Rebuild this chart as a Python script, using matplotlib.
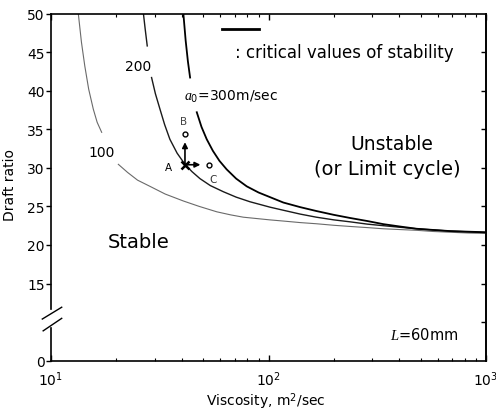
import numpy as np
import matplotlib
matplotlib.use("Agg")
import matplotlib.pyplot as plt
from matplotlib.ticker import LogLocator, NullFormatter

plt.rcParams['font.family'] = ['DejaVu Sans']
plt.rcParams['mathtext.fontset'] = 'custom'
plt.rcParams['mathtext.rm'] = 'DejaVu Sans'
plt.rcParams['mathtext.it'] = 'Liberation Serif:italic'
plt.rcParams['mathtext.bf'] = 'DejaVu Sans:bold'

# ---- data ----
visc_100 = [13.35, 13.8, 14.3, 14.9, 15.65, 16.3, 17.1, np.nan,
            20.4, 22.5, 25.0, 28.5, 33.5, 40.6, 48.0, 57.8, 67.0, 76.6, 90.0, 101.6,
            117, 140, 166, 200, 237, 285, 337, 400, 480, 570, 683, 830, 1000]
drift_100 = [50.0, 46.3, 43.2, 40.2, 37.6, 35.9, 34.6, np.nan,
             30.45, 29.4, 28.4, 27.6, 26.6, 25.7, 25.0, 24.3, 23.9, 23.6, 23.4, 23.25,
             23.1, 22.9, 22.75, 22.55, 22.4, 22.25, 22.1, 22.0, 21.9, 21.75, 21.65, 21.55, 21.5]

visc_200 = [26.6, 27.1, 27.7, np.nan,
            29.0, 30.2, 31.7, 33.3, 35.2, 38.0, 41.3, 44.5, 48.4, 54.0, 62.0, 71.0, 82.2, 101.6,
            117, 140, 166, 200, 237, 285, 337, 400, 480, 570, 683, 830, 1000]
drift_200 = [50.0, 48.0, 45.8, np.nan,
             41.7, 39.6, 37.6, 35.6, 33.7, 31.9, 30.45, 29.5, 28.6, 27.7, 26.9, 26.2, 25.6, 24.9,
             24.5, 24.0, 23.6, 23.25, 23.0, 22.7, 22.5, 22.3, 22.1, 21.95, 21.8, 21.7, 21.6]

visc_300 = [40.6, 41.6, 42.6, 43.6, np.nan,
            46.8, 49.2, 52.0, 55.5, 59.5, 64.2, 71.0, 79.4, 90.0, 101.6,
            117, 140, 166, 200, 237, 285, 337, 400, 480, 570, 683, 830, 1000]
drift_300 = [50.0, 46.5, 43.8, 41.7, np.nan,
             37.2, 35.3, 33.7, 32.2, 30.9, 29.8, 28.6, 27.6, 26.8, 26.2,
             25.5, 24.9, 24.4, 23.9, 23.5, 23.1, 22.7, 22.4, 22.1, 21.95, 21.8, 21.72, 21.65]

point_A = (41.3, 30.4)
point_B = (41.3, 34.4)
point_C = (53.5, 30.4)

yticks_left = [5, 15, 20, 25, 30, 35, 40, 45, 50]
yticklabels_left = ['0', '15', '20', '25', '30', '35', '40', '45', '50']
yticks_right = [10, 15, 20, 25, 30, 35, 40, 45]

fig = plt.figure(figsize=(4.96, 4.14), dpi=100)
ax = fig.add_axes([51/496, 1-361.7/414, 435/496, 347.2/414])

ax.set_xscale('log')
ax.set_xlim(10, 1000)
ax.set_ylim(5, 50)

ax.plot(visc_100, drift_100, color='#6a6a6a', lw=0.8)
ax.plot(visc_200, drift_200, color='#1a1a1a', lw=1.0)
ax.plot(visc_300, drift_300, color='black', lw=1.3)

# A, B, C markers
ax.plot(*point_A, marker='x', color='black', ms=6, mew=1.8)
ax.plot(*point_B, marker='o', mfc='white', mec='black', ms=3.5, mew=1.0)
ax.plot(*point_C, marker='o', mfc='white', mec='black', ms=3.5, mew=1.0)
ax.annotate('', xy=point_B, xytext=point_A,
            arrowprops=dict(arrowstyle='-|>', color='black', lw=1.2,
                            shrinkA=0, shrinkB=6, mutation_scale=8))
ax.annotate('', xy=point_C, xytext=point_A,
            arrowprops=dict(arrowstyle='-|>', color='black', lw=1.2,
                            shrinkA=0, shrinkB=6.5, mutation_scale=8))
ax.text(34.6, 30.1, 'A', fontsize=7.5, ha='center', va='center')
ax.text(40.5, 36.1, 'B', fontsize=7.5, ha='center', va='center', color='#444')
ax.text(55.7, 28.6, 'C', fontsize=7.5, ha='center', va='center', color='#333')

# curve labels
ax.text(17.1, 32.1, '100', fontsize=10, ha='center', va='center')
ax.text(25.1, 43.2, '200', fontsize=10, ha='center', va='center')
ax.text(41.0, 39.3, r'$a_0$=300m/sec', fontsize=10, ha='left', va='center')

# legend-like annotation
ax.plot([0.394, 0.479], [0.955, 0.955], transform=ax.transAxes, color='black', lw=2.0)
ax.text(0.423, 0.888, ': critical values of stability', transform=ax.transAxes,
        fontsize=12, ha='left', va='center')

ax.text(368, 33.1, 'Unstable', fontsize=13.5, ha='center', va='center')
ax.text(352, 29.85, '(or Limit cycle)', fontsize=14, ha='center', va='center')
ax.text(25.4, 20.4, 'Stable', fontsize=14, ha='center', va='center')
ax.text(362, 8.46, r'$L$=60mm', fontsize=10.5, ha='left', va='center')

# axes / spines
for s in ['top', 'right', 'bottom']:
    ax.spines[s].set_linewidth(1.2)
ax.spines['left'].set_visible(False)
ax.plot([0, 0], [0, 0.094], transform=ax.transAxes, color='black', lw=1.2, clip_on=False)
ax.plot([0, 0], [0.149, 1], transform=ax.transAxes, color='black', lw=1.2, clip_on=False)
ax.plot([-0.020, 0.0246], [0.120, 0.154], transform=ax.transAxes, color='black', lw=1.0, clip_on=False)
ax.plot([-0.018, 0.0246], [0.086, 0.122], transform=ax.transAxes, color='black', lw=1.0, clip_on=False)

ax.set_yticks(yticks_left)
ax.set_yticklabels(yticklabels_left)
ax.tick_params(axis='y', direction='out', length=3.5, width=1.0, labelsize=10, pad=1)
ax.tick_params(axis='x', which='major', direction='in', length=4, width=1.0, top=True,
               labelsize=10, pad=6)
ax.tick_params(axis='x', which='minor', direction='in', length=2.5, width=0.8, top=True)
ax.xaxis.set_minor_locator(LogLocator(base=10, subs=np.arange(2, 10)))
ax.xaxis.set_minor_formatter(NullFormatter())

sec = ax.secondary_yaxis('right')
sec.set_yticks(yticks_right)
sec.set_yticklabels([])
sec.tick_params(direction='in', length=3.5, width=1.0)
sec.spines['right'].set_linewidth(1.2)

ax.set_xlabel(r'Viscosity, m$^2$/sec', fontsize=10)
ax.set_ylabel('Draft ratio', fontsize=10)
ax.xaxis.set_label_coords(0.494, -0.085)
ax.yaxis.set_label_coords(-0.078, 0.51)

fig.savefig('out.png', dpi=100)
